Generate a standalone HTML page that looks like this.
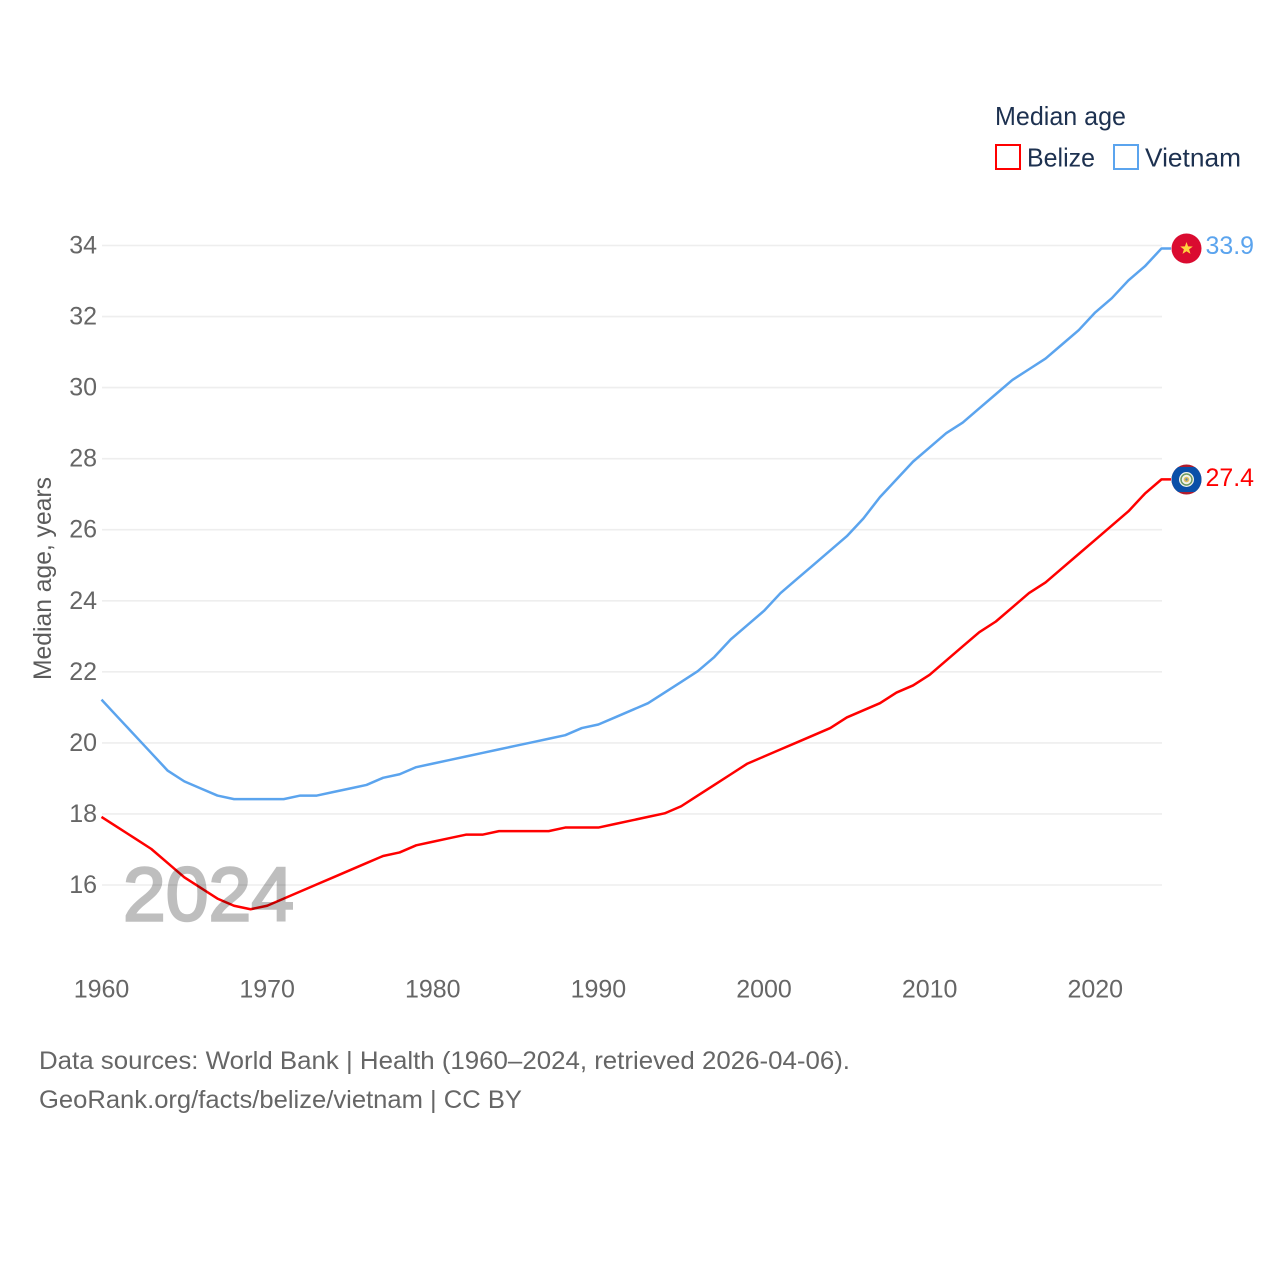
<!DOCTYPE html>
<html lang="en">
<head>
<meta charset="utf-8">
<title>Median age: Belize and Vietnam</title>
<style>
html,body{margin:0;padding:0;background:#fff}
svg{display:block}
text{font-family:"Liberation Sans",sans-serif}
</style>
</head>
<body>
<svg id="chart" xmlns="http://www.w3.org/2000/svg" width="1280" height="1280" viewBox="0 0 1280 1280">
  <rect width="1280" height="1280" fill="#fff"/>
  <g id="grid"></g>
  <g id="yticks"></g>
  <g id="xticks"></g>
  <g id="series"></g>
  <text x="123" y="920.500" font-size="76" fill="#000" stroke="#000" stroke-width="2.5" opacity="0.25" textLength="171" lengthAdjust="spacingAndGlyphs">2024</text>
  <text transform="translate(51,680) rotate(-90)" font-size="25" fill="#5b5b5b" textLength="203" lengthAdjust="spacingAndGlyphs">Median age, years</text>

  <g>
    <text x="995" y="125" font-size="26" fill="#1d3150" textLength="131" lengthAdjust="spacingAndGlyphs">Median age</text>
    <rect x="996" y="145" width="24" height="24" fill="none" stroke="#ff0000" stroke-width="2"/>
    <text x="1027" y="166.500" font-size="26" fill="#1d3150" textLength="68" lengthAdjust="spacingAndGlyphs">Belize</text>
    <rect x="1114" y="145" width="24" height="24" fill="none" stroke="#5ba4ee" stroke-width="2"/>
    <text x="1145" y="166.500" font-size="26" fill="#1d3150" textLength="96" lengthAdjust="spacingAndGlyphs">Vietnam</text>
  </g>

  <g>
    <circle cx="1186.500" cy="248.500" r="15" fill="#da0b30"/>
    <polygon points="1186.500,242 1188.100,246.400 1192.800,246.500 1189.100,249.400 1190.500,253.900 1186.500,251.200 1182.500,253.900 1183.900,249.400 1180.200,246.500 1184.900,246.400" fill="#ffd23f"/>
  </g>
  <g>
    <clipPath id="belize-clip"><circle cx="1186.500" cy="479.500" r="15"/></clipPath>
    <g clip-path="url(#belize-clip)">
      <rect x="1171" y="464" width="31" height="31" fill="#b01c2e"/>
      <rect x="1171" y="467" width="31" height="25" fill="#0a4fa8"/>
    </g>
    <circle cx="1186.500" cy="479.500" r="7.500" fill="#f2f2ea"/>
    <circle cx="1186.500" cy="479.500" r="5.500" fill="none" stroke="#6c9a62" stroke-width="1.500"/>
    <circle cx="1186.500" cy="479.500" r="2.800" fill="#e0c060"/>
    <circle cx="1186.500" cy="479.500" r="1.200" fill="#5b87a8"/>
  </g>
  <text x="1205.500" y="254" font-size="25" fill="#5ba4ee" textLength="48.500" lengthAdjust="spacingAndGlyphs">33.9</text>
  <text x="1205.500" y="486" font-size="25" fill="#ff0000" textLength="48.500" lengthAdjust="spacingAndGlyphs">27.4</text>

  <text x="39" y="1069" font-size="25" fill="#666" textLength="811" lengthAdjust="spacingAndGlyphs">Data sources: World Bank | Health (1960–2024, retrieved 2026-04-06).</text>
  <text x="39" y="1108" font-size="25" fill="#666" textLength="483" lengthAdjust="spacingAndGlyphs">GeoRank.org/facts/belize/vietnam | CC BY</text>
</svg>
<script>
var startYear = 1960;
var yTickValues = [16, 18, 20, 22, 24, 26, 28, 30, 32, 34];
var xTickValues = [1960, 1970, 1980, 1990, 2000, 2010, 2020];
var belizeValues = [17.9,17.6,17.3,17.0,16.6,16.2,15.9,15.6,15.4,15.3,15.4,15.6,15.8,16.0,16.2,16.4,16.6,16.8,16.9,17.1,17.2,17.3,17.4,17.4,17.5,17.5,17.5,17.5,17.6,17.6,17.6,17.7,17.8,17.9,18.0,18.2,18.5,18.8,19.1,19.4,19.6,19.8,20.0,20.2,20.4,20.7,20.9,21.1,21.4,21.6,21.9,22.3,22.7,23.1,23.4,23.8,24.2,24.5,24.9,25.3,25.7,26.1,26.5,27.0,27.4];
var vietnamValues = [21.2,20.7,20.2,19.7,19.2,18.9,18.7,18.5,18.4,18.4,18.4,18.4,18.5,18.5,18.6,18.7,18.8,19.0,19.1,19.3,19.4,19.5,19.6,19.7,19.8,19.9,20.0,20.1,20.2,20.4,20.5,20.7,20.9,21.1,21.4,21.7,22.0,22.4,22.9,23.3,23.7,24.2,24.6,25.0,25.4,25.8,26.3,26.9,27.4,27.9,28.3,28.7,29.0,29.4,29.8,30.2,30.5,30.8,31.2,31.6,32.1,32.5,33.0,33.4,33.9];

var NS = 'http://www.w3.org/2000/svg';
function xScale(year) { return 101.5 + (year - 1960) * (1161.5 - 101.5) / 64; }
function yScale(v) { return 885 - (v - 16) * (885 - 245.5) / 18; }
function make(tag, parentId) {
  var el = document.createElementNS(NS, tag);
  document.getElementById(parentId).appendChild(el);
  return el;
}
function linePath(values) {
  var d = '';
  for (var i = 0; i < values.length; i++) {
    d += (i ? 'L' : 'M') + xScale(startYear + i).toFixed(2) + ' ' + (yScale(values[i]) - 0.6).toFixed(2);
  }
  var last = values[values.length - 1];
  d += 'L1171 ' + (yScale(last) - 0.6).toFixed(2);
  return d;
}
yTickValues.forEach(function (v) {
  var g = make('line', 'grid');
  
  
  g.setAttribute('x1', 102);
  g.setAttribute('x2', 1162);
  g.setAttribute('y1', yScale(v));
  g.setAttribute('y2', yScale(v));
  g.setAttribute('stroke', '#eeeeee');
  g.setAttribute('stroke-width', 1.6);
  var t = make('text', 'yticks');
  
  
  t.setAttribute('x', 97);
  t.setAttribute('y', yScale(v) + 8);
  t.setAttribute('text-anchor', 'end');
  t.setAttribute('font-size', 25);
  t.setAttribute('fill', '#666');
  t.textContent = v;
});
xTickValues.forEach(function (y) {
  var t = make('text', 'xticks');
  
  
  t.setAttribute('x', xScale(y));
  t.setAttribute('y', 997.5);
  t.setAttribute('text-anchor', 'middle');
  t.setAttribute('font-size', 25);
  t.setAttribute('fill', '#666');
  t.textContent = y;
});
var vietnamLine = make('path', 'series');


vietnamLine.setAttribute('d', linePath(vietnamValues));
vietnamLine.setAttribute('fill', 'none');
vietnamLine.setAttribute('stroke', '#5ba4ee');
vietnamLine.setAttribute('stroke-width', 2.5);
vietnamLine.setAttribute('stroke-linejoin', 'round');
var belizeLine = make('path', 'series');


belizeLine.setAttribute('d', linePath(belizeValues));
belizeLine.setAttribute('fill', 'none');
belizeLine.setAttribute('stroke', '#ff0000');
belizeLine.setAttribute('stroke-width', 2.5);
belizeLine.setAttribute('stroke-linejoin', 'round');
</script>
</body>
</html>
